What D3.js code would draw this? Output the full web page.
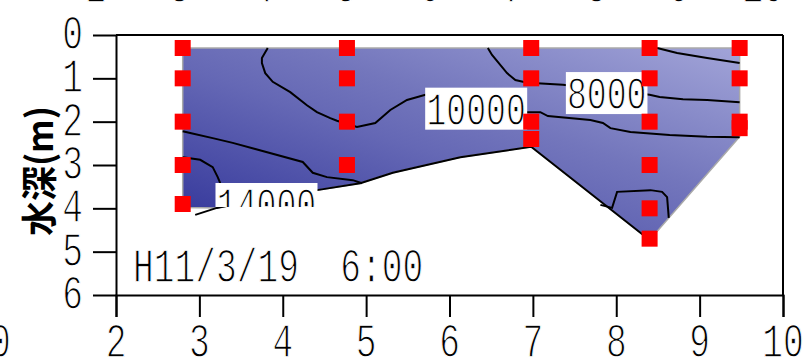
<!DOCTYPE html>
<html><head><meta charset="utf-8">
<script src="https://cdn.jsdelivr.net/npm/d3@7"></script>
<style>html,body{margin:0;padding:0;background:#fff;}svg{display:block;}</style>
</head><body>
<svg id="chart" width="805" height="358"></svg>
<script>
// ---- data ----
const xTicks = [2,3,4,5,6,7,8,9,10];
const yTicks = [0,1,2,3,4,5,6];
const stationX = [2.8, 4.77, 6.98, 8.4, 9.48];
const sampleDepths = [[0.3,1,2,3,3.9],[0.3,1,2,3],[0.3,1,2,2.4],[0.3,1,2,3,4,4.7],[0.3,1,2,2.15]];
const outlineX = [2.8, 9.48, 9.48, 8.4, 6.98, 6.13, 5.32, 4.93, 4.41, 3.97, 3.21, 2.8];
const outlineD = [0.3, 0.3, 2.35, 4.73, 2.58, 2.82, 3.18, 3.42, 3.58, 3.69, 3.99, 3.98];
const bedX = [2.95, 3.21, 3.97, 4.41, 4.93, 5.32, 6.13, 6.98, 8.4];
const bedD = [4.15, 3.99, 3.69, 3.58, 3.42, 3.18, 2.82, 2.58, 4.73];
const c6000X = [8.49, 8.73, 9.09, 9.48];
const c6000D = [0.30, 0.415, 0.53, 0.646];
const c8000X = [6.46, 6.51, 6.69, 6.79, 6.88, 7.0, 7.36, 8.40, 8.52, 8.80, 9.09, 9.48];
const c8000D = [0.30, 0.46, 0.88, 1.04, 1.08, 1.11, 1.15, 1.38, 1.43, 1.48, 1.50, 1.55];
const c10000X = [3.82, 3.75, 3.75, 3.79, 3.88, 4.09, 4.29, 4.41, 4.57, 4.65, 4.89, 5.11, 5.29, 5.49, 5.71, 6.93, 7.09, 7.18, 7.69, 7.84, 7.93, 8.17, 8.64, 9.09, 9.48];
const c10000D = [0.30, 0.53, 0.65, 0.88, 1.08, 1.32, 1.62, 1.78, 1.92, 1.98, 2.12, 2.03, 1.73, 1.50, 1.38, 1.78, 1.78, 1.87, 1.96, 2.03, 2.15, 2.24, 2.31, 2.35, 2.36];
const c12000X = [2.80, 2.89, 3.16, 3.40, 3.67, 4.24, 4.36, 4.53, 4.84, 4.95];
const c12000D = [2.22, 2.26, 2.38, 2.49, 2.63, 2.93, 3.18, 3.28, 3.35, 3.42];
const c12000bX = [7.81, 7.95, 8.01, 8.41, 8.55, 8.61, 8.63];
const c12000bD = [3.92, 3.99, 3.62, 3.58, 3.62, 3.74, 4.22];
const c14000X = [2.80, 3.01, 3.16, 3.22, 3.25];
const c14000D = [2.82, 2.88, 3.05, 3.28, 3.42];
const labelText = ["10000", "8000", "14000"];
const labelX = [6.32, 7.885, 3.805];
const labelD = [1.70, 1.34, 3.90];
const dateText = "H11/3/19  6:00";
const yTitle = "水深(m)";

// ---- drawing ----
const svg = d3.select("#chart");
const x = d3.scaleLinear().domain([2,10]).range([116,783]);
const y = d3.scaleLinear().domain([0,6]).range([35,295]);
const zip = (xs, ds) => xs.map((v,i)=>[x(v), y(ds[i])]);
const line = d3.line();
const FONT = "'Liberation Mono', monospace";
const thin = sel => sel.attr("stroke","#fff").attr("stroke-width",1.3).attr("paint-order","normal");

const defs = svg.append("defs");
const grad = defs.append("linearGradient").attr("id","fillGrad")
  .attr("x1",1).attr("y1",0).attr("x2",0).attr("y2",1);
[[0,"#a2a4d8"],[0.2,"#8a8dca"],[0.4,"#7376bc"],[0.55,"#6568b5"],[0.75,"#4d50a8"],[1,"#2f3298"]]
  .forEach(([o,c])=>grad.append("stop").attr("offset",o).attr("stop-color",c));
defs.append("clipPath").attr("id","lblClip").append("rect")
  .attr("x",0).attr("y",0).attr("width",805).attr("height",207);

// section fill
svg.append("path").attr("d", line(zip(outlineX, outlineD)) + "Z")
  .attr("fill","url(#fillGrad)").attr("stroke","#a9a9a9").attr("stroke-width",1.5);

// contour lines
const contours = [[c6000X,c6000D],[c8000X,c8000D],[c10000X,c10000D],[c12000X,c12000D],[c12000bX,c12000bD],[c14000X,c14000D],[bedX,bedD]];
svg.append("g").selectAll("path").data(contours).join("path")
  .attr("d", d=>line(zip(d[0], d[1])))
  .attr("fill","none").attr("stroke","#000").attr("stroke-width",2);

// contour labels
const lbl = svg.append("g").selectAll("g").data(labelText).join("g")
  .attr("clip-path",(d,i)=> i===2 ? "url(#lblClip)" : null)
  .append("g")
  .attr("transform",(d,i)=>`translate(${x(labelX[i])},${y(labelD[i])})`);
lbl.append("rect").attr("x",d=>-d.length*20.4/2).attr("y",-21)
  .attr("width",d=>d.length*20.4).attr("height",42).attr("fill","#fff");
lbl.append("text").text(d=>d).attr("transform","translate(0,16) scale(0.72,1)")
  .attr("text-anchor","middle").attr("font-family",FONT).attr("font-size",46).attr("fill","#000").call(thin);

// sample points
const pts = [];
stationX.forEach((sx,i)=>sampleDepths[i].forEach(dp=>pts.push([sx,dp])));
svg.append("g").selectAll("rect").data(pts).join("rect")
  .attr("x",d=>x(d[0])-8).attr("y",d=>y(d[1])-8).attr("width",16).attr("height",16)
  .attr("fill","#ff0000");

// axes / frame
const axG = svg.append("g").attr("stroke-width",2);
axG.append("g").attr("transform",`translate(0,${y(6)})`)
  .call(d3.axisBottom(x).tickValues(xTicks).tickSize(22).tickSizeOuter(22).tickFormat(""));
axG.append("g").attr("transform",`translate(${x(2)},0)`)
  .call(d3.axisLeft(y).tickValues(yTicks).tickSize(23).tickSizeOuter(0).tickFormat(""));
axG.selectAll("path,line").attr("stroke","#000").attr("stroke-width",2);
axG.append("line").attr("x1",x(2)).attr("x2",x(10)).attr("y1",y(0)).attr("y2",y(0)).attr("stroke","#000").attr("stroke-width",2);
axG.append("line").attr("x1",x(10)).attr("x2",x(10)).attr("y1",y(0)).attr("y2",y(6)).attr("stroke","#000").attr("stroke-width",2);

// tick labels
svg.append("g").selectAll("text").data(xTicks).join("text").text(d=>d)
  .attr("transform",d=>`translate(${x(d)},357) scale(0.72,1)`)
  .attr("text-anchor","middle").attr("font-family",FONT).attr("font-size",48).call(thin);
svg.append("g").selectAll("text").data(yTicks).join("text").text(d=>d)
  .attr("transform",d=>`translate(83,${y(d)+14}) scale(0.72,1)`)
  .attr("text-anchor","end").attr("font-family",FONT).attr("font-size",48).call(thin);
// neighbouring panels' clipped labels
svg.append("g").selectAll("text").data(xTicks).join("text").text(d=>d)
  .attr("transform",d=>`translate(${x(d)-20},2) scale(0.72,1)`)
  .attr("text-anchor","middle").attr("font-family",FONT).attr("font-size",48).call(thin);
svg.append("text").text("10").attr("transform","translate(-10,357) scale(0.72,1)")
  .attr("text-anchor","middle").attr("font-family",FONT).attr("font-size",48).call(thin);

// date
svg.append("text").text(dateText).attr("transform","translate(133,282) scale(0.72,1)")
  .attr("font-family",FONT).attr("font-size",48).style("white-space","pre").call(thin);

// y title
svg.append("text").text(yTitle)
  .attr("transform","translate(37,171) rotate(-90)")
  .attr("text-anchor","middle").attr("dominant-baseline","central")
  .attr("font-family","'Noto Sans CJK JP', sans-serif").attr("font-weight","bold").attr("font-size",36)
  .attr("textLength",130).attr("lengthAdjust","spacingAndGlyphs");
</script>
</body></html>
